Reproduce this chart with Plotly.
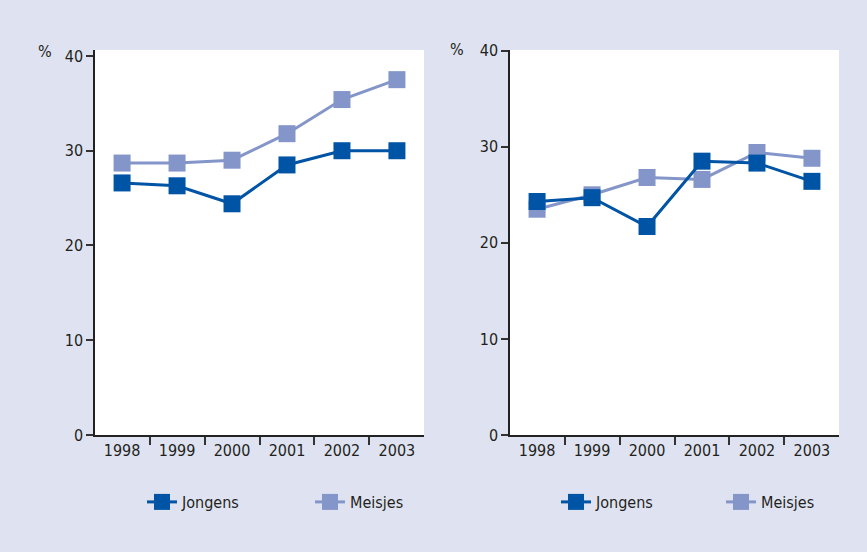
import plotly.graph_objects as go

years = ["1998", "1999", "2000", "2001", "2002", "2003"]
left_jongens = [26.6, 26.3, 24.4, 28.5, 30.0, 30.0]
left_meisjes = [28.7, 28.7, 29.0, 31.8, 35.4, 37.5]
right_jongens = [24.3, 24.7, 21.7, 28.5, 28.3, 26.4]
right_meisjes = [23.5, 25.0, 26.8, 26.6, 29.4, 28.8]
y_ticks = [0, 10, 20, 30, 40]

DARK = "#0054A5"
LIGHT = "#8495C9"
BG = "#DFE3F1"
FONT = "DejaVu Sans Condensed, Roboto, sans-serif"
TXT = "#231F20"

fig = go.Figure()

def add_pair(jong, meis, xa, ya, leg):
    fig.add_trace(go.Scatter(
        x=years, y=meis, name="Meisjes", mode="lines+markers",
        line=dict(color=LIGHT, width=3),
        marker=dict(symbol="square", size=17, color=LIGHT),
        xaxis=xa, yaxis=ya, legend=leg, legendrank=2, cliponaxis=False))
    fig.add_trace(go.Scatter(
        x=years, y=jong, name="Jongens", mode="lines+markers",
        line=dict(color=DARK, width=3),
        marker=dict(symbol="square", size=17, color=DARK),
        xaxis=xa, yaxis=ya, legend=leg, legendrank=1, cliponaxis=False))

add_pair(left_jongens, left_meisjes, "x", "y", "legend")
add_pair(right_jongens, right_meisjes, "x2", "y2", "legend2")

W, H = 867, 552
ydom = [(H - 435) / H, (H - 50) / H]

xcommon = dict(type="category", tickson="boundaries", ticks="outside", ticklen=8,
               tickcolor="#333333", tickwidth=1.5, showline=True, linecolor="#222222",
               linewidth=1.5, showgrid=False, zeroline=False,
               tickfont=dict(family=FONT, size=16, color=TXT), fixedrange=True)
ycommon = dict(tickvals=y_ticks, ticks="outside", ticklen=7, tickcolor="#333333",
               tickwidth=1.5, showline=True, linecolor="#222222", linewidth=1.5,
               showgrid=False, zeroline=False,
               tickfont=dict(family=FONT, size=16, color=TXT), fixedrange=True)

fig.update_layout(
    width=W, height=H,
    margin=dict(l=0, r=0, t=0, b=0, autoexpand=False),
    paper_bgcolor=BG, plot_bgcolor="white",
    font=dict(family=FONT, size=16, color=TXT),
    xaxis=dict(domain=[95 / W, 424 / W], anchor="y", **xcommon),
    yaxis=dict(domain=ydom, anchor="x", range=[0, 40.63], **ycommon),
    xaxis2=dict(domain=[510 / W, 839 / W], anchor="y2", **xcommon),
    yaxis2=dict(domain=ydom, anchor="x2", range=[0, 40.07], **ycommon),
    legend=dict(orientation="h", x=142 / W, y=(H - 502) / H, xanchor="left", yanchor="middle",
                bgcolor="rgba(0,0,0,0)", entrywidth=123, entrywidthmode="pixels",
                font=dict(family=FONT, size=16, color=TXT), itemclick=False,
                itemdoubleclick=False),
    legend2=dict(orientation="h", x=556 / W, y=(H - 502) / H, xanchor="left", yanchor="middle",
                 bgcolor="rgba(0,0,0,0)", entrywidth=120, entrywidthmode="pixels",
                 font=dict(family=FONT, size=16, color=TXT), itemclick=False,
                 itemdoubleclick=False),
    showlegend=True,
    annotations=[
        dict(text="%", x=45 / W, y=(H - 52) / H, xref="paper", yref="paper",
             showarrow=False, xanchor="center", yanchor="middle",
             font=dict(family=FONT, size=16, color=TXT)),
        dict(text="%", x=457 / W, y=(H - 50) / H, xref="paper", yref="paper",
             showarrow=False, xanchor="center", yanchor="middle",
             font=dict(family=FONT, size=16, color=TXT)),
    ],
)

fig.write_html("out.html", config={"displayModeBar": False},
               post_script="document.body.style.margin='0';")
